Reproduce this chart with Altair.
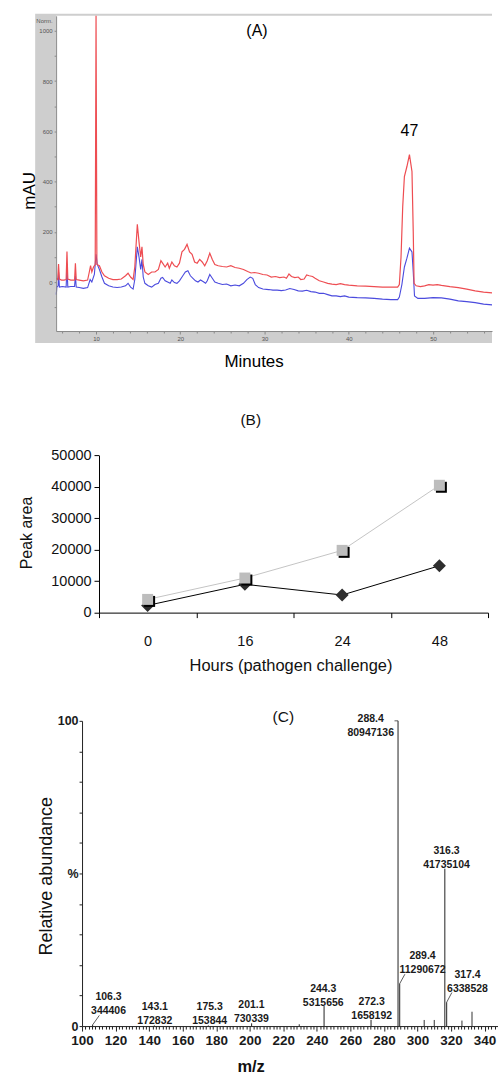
import altair as alt
import pandas as pd

# ---------------- Panel A : chromatogram ----------------
red_t = [5.3, 5.45, 5.55, 5.65, 5.9, 6.2, 6.45, 6.55, 6.65, 7.0, 7.45, 7.55, 7.65, 8.0, 8.5, 9.0, 9.2, 9.35,
         9.5, 9.7, 9.9, 10.0, 10.1, 10.4, 10.7, 11.0, 11.5, 12.0, 12.5, 13.0, 13.5, 13.8, 14.1, 14.4, 14.6,
         14.9, 15.1, 15.3, 15.45, 15.6, 15.8, 16.2, 16.6, 17.0, 17.4, 17.7, 17.9, 18.2, 18.5, 18.7, 19.0,
         19.3, 19.6, 19.9, 20.2, 20.5, 20.8, 21.1, 21.4, 21.7, 22.0, 22.3, 22.6, 22.9, 23.2, 23.5, 23.8,
         24.1, 24.5, 25.0, 25.5, 26.0, 26.5, 27.0, 27.5, 28.0, 28.4, 28.8, 29.3, 29.8, 30.3, 30.8, 31.3,
         31.8, 32.3, 32.6, 32.9, 33.2, 33.6, 34.0, 34.3, 34.7, 35.0, 35.3, 35.7, 36.0, 36.5, 37.0, 37.5,
         38.0, 38.5, 39.0, 39.5, 40.0, 41.0, 42.0, 43.0, 44.0, 45.0, 45.8, 46.0, 46.2, 46.4, 46.6, 46.9,
         47.2, 47.5, 47.65, 47.75, 48.0, 48.5, 49.0, 49.5, 50.0, 50.5, 51.0, 52.0, 53.0, 54.0, 55.0, 56.0, 57.0]
red_v = [15, 10, 72, 12, 8, 8, 10, 122, 12, 8, 8, 75, 10, 8, 5, 8, 40, 65,
         40, 60, 70, 1060, 70, 65, 40, 25, 15, 10, 10, 12, 25, 35, 20, 10, 60,
         230, 160, 100, 140, 70, 40, 30, 40, 40, 50, 85, 75, 60, 75, 55, 80,
         65, 60, 75, 120, 130, 150, 120, 110, 80, 75, 90, 80, 65, 85, 115, 90,
         70, 65, 62, 60, 65, 58, 55, 50, 42, 36, 38, 35, 30, 28, 20, 22,
         18, 20, 15, 32, 22, 18, 20, 10, 12, 28, 25, 22, 15, 5, 0, -5,
         -8, -10, -6, -10, -12, -15, -16, -18, -20, -20, -20, -10, 100, 300, 420, 460,
         507, 440, 200, -5, -15, -18, -15, -10, -12, -10, -13, -18, -22, -28, -35, -40, -43]

blue_t = [5.28, 5.35, 5.5, 5.55, 5.65, 6.0, 6.45, 6.55, 6.65, 7.0, 7.45, 7.55, 7.65, 8.0, 8.5, 9.0, 9.3,
          9.5, 9.8, 10.0, 10.15, 10.4, 10.7, 11.0, 11.5, 12.0, 12.5, 13.0, 13.5, 13.8, 14.1, 14.4, 14.6,
          14.9, 15.1, 15.3, 15.45, 15.6, 15.8, 16.2, 16.6, 17.0, 17.4, 17.7, 17.9, 18.2, 18.5, 18.8, 19.0,
          19.3, 19.6, 19.9, 20.3, 20.6, 20.9, 21.2, 21.5, 21.8, 22.1, 22.4, 22.7, 23.0, 23.2, 23.5, 23.8,
          24.1, 24.5, 25.0, 25.5, 26.0, 26.5, 27.0, 27.5, 27.9, 28.3, 28.6, 28.9, 29.3, 29.8, 30.5, 31.0,
          31.5, 32.0, 32.5, 33.0, 33.5, 34.0, 34.5, 35.0, 35.5, 36.0, 36.5, 37.0, 37.5, 38.0, 38.5, 39.0,
          39.5, 40.0, 41.0, 42.0, 43.0, 44.0, 45.0, 45.8, 46.0, 46.3, 46.6, 46.9, 47.2, 47.5, 47.65, 47.8,
          48.2, 49.0, 50.0, 51.0, 52.0, 53.0, 54.0, 55.0, 56.0, 57.0]
blue_v = [-50, -20, -15, 40, -20, -18, -20, 60, -20, -18, -18, 25, -20, -22, -25, -22, 10,
          0, 30, 110, 70, 50, 20, -5, -15, -20, -22, -20, -15, -5, -20, -28, 10,
          140, 100, 50, 90, 20, -5, -15, -20, -10, -5, 15, 18, 5, 0, -5, 8,
          -2, -5, 5, 25, 40, 45, 25, 15, 5, 0, 8, 2, -5, 5, 30, 15,
          0, -5, -10, -8, -15, -12, -15, -5, 10, 20, 15, -10, -22, -28, -30, -32,
          -32, -34, -32, -26, -30, -35, -36, -33, -38, -40, -45, -45, -50, -55, -55, -58,
          -55, -60, -62, -63, -65, -68, -70, -70, -60, -10, 60, 95, 135, 120, 40, -55,
          -65, -65, -62, -63, -68, -75, -78, -82, -88, -91]

a_note_t = [47.2, 29.1]
a_note_v = [600, 998]
a_note_text = ["47", "(A)"]
a_xdom = [5.26, 57.0]
a_ydom = [-195, 1060]
a_xticks = list(range(6, 57, 2))
a_yticks = list(range(-100, 1001, 100)) + [1040]

# ---------------- Panel B : peak area ----------------
hours = ["0", "16", "24", "48"]
diamond_vals = [2300, 9000, 5600, 14900]
square_vals = [4200, 11000, 19800, 40500]
b_note_i = [1.06]
b_note_v = [61300]
b_note_text = ["(B)"]

# ---------------- Panel C : mass spectrum ----------------
pk_mz = [106.3, 143.1, 175.3, 201.1, 244.3, 272.3, 288.4, 289.4, 316.3, 317.4]
pk_int = [344406, 172832, 153844, 730339, 5315656, 1658192, 80947136, 11290672, 41735104, 6338528]
pk_lbl_mz = [115.8, 143.4, 176.1, 201.0, 243.8, 272.7, 272.1, 303.0, 317.3, 329.8]
pk_lbl_y = [4.1, 0.9, 0.9, 1.5, 6.9, 2.5, 95.2, 17.4, 52.0, 11.2]
small_mz = [229.5, 304.0, 310.0, 326.5, 332.5]
small_h = [0.6, 2.0, 2.0, 1.8, 4.7]
lead_x = [106.3, 286.3, 289.4, 317.4]
lead_y = [0.4, 100, 13.9, 7.8]
lead_x2 = [110.3, 288.4, 292.5, 320.5]
lead_y2 = [3.5, 100, 17.0, 11.0]
c_note_mz = [220.0]
c_note_y = [101.2]
c_note_text = ["(C)"]

FONT = "Liberation Sans"

# ======== Panel A ========
trA = pd.DataFrame({"t": red_t, "v": red_v})
tbA = pd.DataFrame({"t": blue_t, "v": blue_v})
winA = pd.DataFrame({"t": [a_xdom[0]], "t2": [a_xdom[1]], "v": [a_ydom[0]], "v2": [a_ydom[1]]})
noteA = pd.DataFrame({"t": a_note_t, "v": a_note_v, "txt": a_note_text})

xA = alt.X("t:Q", title="Minutes",
           scale=alt.Scale(domain=a_xdom, range=[21, 458], nice=False, zero=False),
           axis=alt.Axis(values=a_xticks, offset=-12, zindex=1, grid=False,
                         labelExpr="datum.value % 10 == 0 ? datum.value : ''",
                         labelFontSize=6, labelColor="#555", labelPadding=2, labelFlush=False,
                         labelOverlap=False,
                         tickSize={"condition": {"test": "datum.value % 10 == 0", "value": 3}, "value": 2},
                         tickColor="#8a8a8a", domainColor="#8a8a8a",
                         titleFontSize=17, titleFontWeight="normal", titleColor="black",
                         titleX=219, titleY=31, titleBaseline="middle", titleAlign="center"))
yA = alt.Y("v:Q", title="mAU",
           scale=alt.Scale(domain=a_ydom, range=[318, 2], nice=False, zero=False),
           axis=alt.Axis(values=a_yticks, offset=-21, zindex=1, grid=False,
                         labelExpr="datum.value == 1040 ? 'Norm.' : (datum.value % 200 == 0 && datum.value >= 0 ? datum.value : '')",
                         labelFontSize=6, labelColor="#555", labelPadding=2, labelOverlap=False,
                         tickSize=2, tickColor="#8a8a8a", domainColor="#8a8a8a",
                         tickOpacity={"condition": {"test": "datum.value == 1040", "value": 0}, "value": 1},
                         titleFontSize=17, titleFontWeight="normal", titleColor="black",
                         titleX=-27, titleY=177, titleBaseline="middle", titleAlign="center"))

winLayer = alt.Chart(winA).mark_rect(fill="white").encode(x=xA, x2="t2", y=yA, y2="v2")
blueLayer = alt.Chart(tbA).mark_line(color="#4b4bde", strokeWidth=1.1).encode(x=xA, y=yA)
redLayer = alt.Chart(trA).mark_line(color="#ee4d52", strokeWidth=1.2).encode(x=xA, y=yA)
txtA = alt.Chart(noteA).mark_text(fontSize=16, font=FONT, baseline="middle", align="center",
                                  color="black").encode(x=xA, y=yA, text="txt")

panelA = alt.layer(winLayer, blueLayer, redLayer, txtA).properties(
    width=458, height=330,
    view=alt.ViewBackground(fill="#cecece", strokeWidth=0))

# ======== Panel B ========
dfB = pd.DataFrame({"i": list(range(len(hours))), "d": diamond_vals, "s": square_vals})
noteB = pd.DataFrame({"i": b_note_i, "d": b_note_v, "txt": b_note_text})
lbl_js = "[" + ",".join("'%s'" % h for h in hours) + "]"
xB = alt.X("i:Q", title="Hours (pathogen challenge)",
           scale=alt.Scale(domain=[-0.5, len(hours) - 0.5], range=[64, 454], nice=False, zero=False),
           axis=alt.Axis(values=[k / 2 - 0.5 for k in range(2 * len(hours) + 1)], grid=False,
                         labelExpr="datum.value % 1 == 0 ? " + lbl_js + "[datum.value] : ''",
                         labelFontSize=14.5, labelColor="#111", labelPadding=17, labelFlush=False,
                         labelOverlap=False, tickSize=5, tickColor="black", domainColor="black",
                         tickOpacity={"condition": {"test": "datum.value % 1 == 0", "value": 0}, "value": 1},
                         titleFontSize=16.5, titleFontWeight="normal", titleColor="#111",
                         titleX=256, titleY=53, titleBaseline="middle", titleAlign="center"))
yB_scale = alt.Scale(domain=[0, 50000], range=[161.9, 4.3], nice=False, zero=False)
yB_axis = alt.Axis(values=list(range(0, 50001, 10000)), offset=-64, grid=False,
                   labelExpr="datum.value", labelFontSize=14.5, labelColor="#111", labelPadding=3,
                   labelOverlap=False, tickSize=5, tickColor="black", domainColor="black",
                   titleFontSize=16, titleFontWeight="normal", titleColor="#111",
                   titleX=-73, titleY=81.6, titleBaseline="middle", titleAlign="center")
yB = alt.Y("d:Q", title="Peak area", scale=yB_scale, axis=yB_axis)
ySq = alt.Y("s:Q", title="Peak area", scale=yB_scale, axis=yB_axis)

baseB = alt.Chart(dfB)
panelB = alt.layer(
    baseB.mark_line(color="black", strokeWidth=1).encode(x=xB, y=yB),
    baseB.mark_point(shape="diamond", filled=True, size=170, color="#2e2e2e", opacity=1).encode(x=xB, y=yB),
    baseB.mark_line(color="#c4c4c4", strokeWidth=1).encode(x=xB, y=ySq),
    baseB.mark_point(shape="square", filled=True, size=121, color="black", opacity=1, xOffset=2, yOffset=2).encode(x=xB, y=ySq),
    baseB.mark_point(shape="square", filled=True, size=121, color="#bdbdbd", opacity=1).encode(x=xB, y=ySq),
    alt.Chart(noteB).mark_text(fontSize=15.5, font=FONT, baseline="middle", align="center",
                               color="#111").encode(x=xB, y=yB, text="txt"),
).properties(width=454, height=161.9)

# ======== Panel C ========
mx = max(pk_int)
dfPk = pd.DataFrame({"mz": pk_mz, "h": [v / mx * 100 for v in pk_int]})
dfLbl = pd.DataFrame({
    "mz": pk_lbl_mz,
    "h": pk_lbl_y,
    "lbl": ["%.1f\n%d" % (m, v) for m, v in zip(pk_mz, pk_int)],
})
dfSm = pd.DataFrame({"mz": small_mz, "h": small_h})
dfLd = pd.DataFrame({"mz": lead_x, "h": lead_y, "mz2": lead_x2, "h2": lead_y2})
noteC = pd.DataFrame({"mz": c_note_mz, "h": c_note_y, "txt": c_note_text})

xC = alt.X("mz:Q", title="m/z",
           scale=alt.Scale(domain=[100, 348], range=[47, 464], nice=False, zero=False),
           axis=alt.Axis(values=list(range(100, 347, 2)), grid=False,
                         labelExpr="datum.value % 20 == 0 ? datum.value : ''",
                         labelFontWeight="bold",
                         labelFontSize=13.5, labelColor="#1a1a1a", labelPadding=2, labelFlush=False,
                         labelOverlap=False,
                         tickSize={"condition": {"test": "datum.value % 20 == 0", "value": 5}, "value": 3},
                         tickColor="#222", domainColor="#222",
                         titleFontSize=16.5, titleFontWeight="bold", titleColor="#111",
                         titleX=216, titleY=41, titleBaseline="middle", titleAlign="center"))
yC = alt.Y("h:Q", title="Relative abundance",
           scale=alt.Scale(domain=[0, 100], range=[306, 0], nice=False, zero=False),
           axis=alt.Axis(values=list(range(0, 101, 10)), offset=-47, grid=False,
                         labelExpr="datum.value == 50 ? '%' : (datum.value == 0 || datum.value == 100 ? datum.value : '')",
                         labelFontWeight="bold",
                         labelFontSize=12.5, labelColor="#1a1a1a", labelPadding=1, labelOverlap=False,
                         tickSize=3, tickColor="#222", domainColor="#222",
                         titleFontSize=18, titleFontWeight="normal", titleColor="#111",
                         titleX=-36, titleY=155.3, titleBaseline="middle", titleAlign="center"))

panelC = alt.layer(
    alt.Chart(dfSm).mark_rule(color="#333", strokeWidth=1).encode(x=xC, y=yC, y2=alt.datum(0)),
    alt.Chart(dfPk).mark_rule(color="#222", strokeWidth=1).encode(x=xC, y=yC, y2=alt.datum(0)),
    alt.Chart(dfLd).mark_rule(color="#333", strokeWidth=0.8).encode(x=xC, y=yC, x2="mz2", y2="h2"),
    alt.Chart(dfLbl).mark_text(lineBreak="\n", baseline="bottom", align="center", fontSize=10.5,
                               fontWeight="bold", font=FONT, lineHeight=14, dy=-11.5,
                               color="#1a1a1a").encode(x=xC, y=yC, text="lbl"),
    alt.Chart(noteC).mark_text(fontSize=15.5, font=FONT, baseline="middle", align="center",
                               color="#111").encode(x=xC, y=yC, text="txt"),
).properties(width=464, height=306)

chart = alt.vconcat(panelA, panelB, panelC, spacing=108.4, bounds="flush").properties(
    padding={"left": 18.25, "top": 11.5, "right": 0, "bottom": 0}
).configure(font=FONT).configure_view(strokeWidth=0)

chart.save("out.html", embed_options={"renderer": "svg", "actions": False})
